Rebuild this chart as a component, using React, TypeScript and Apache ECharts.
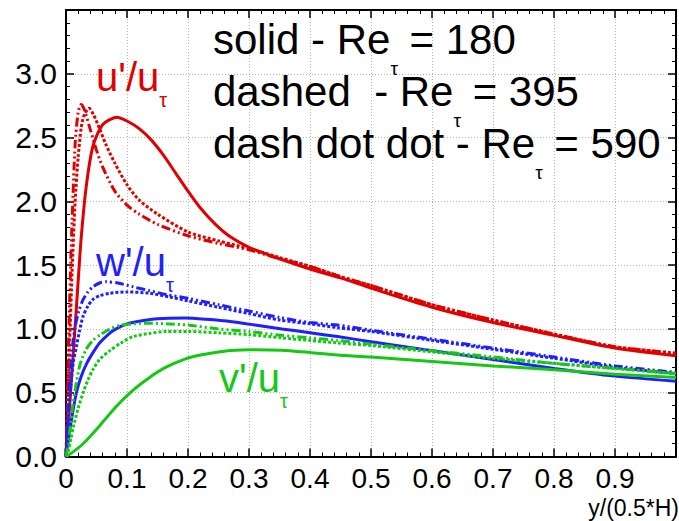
import React, { useEffect, useRef } from "react";
import * as echarts from "echarts";

// x tick labels (0 .. 0.9), y tick labels (0.0 .. 3.0)
const xTickLabels = ["0", "0.1", "0.2", "0.3", "0.4", "0.5", "0.6", "0.7", "0.8", "0.9"];
const yTickLabels = ["0.0", "0.5", "1.0", "1.5", "2.0", "2.5", "3.0"];

// u'/u_tau
const u180X = [0, 0.005, 0.01, 0.015, 0.02, 0.025, 0.033, 0.044, 0.06, 0.083, 0.1, 0.12, 0.14, 0.16, 0.18, 0.2, 0.22, 0.245, 0.27, 0.3, 0.35, 0.4, 0.45, 0.5, 0.6, 0.7, 0.8, 0.9, 1.0];
const u180Y = [0, 0.33, 0.68, 1.02, 1.38, 1.72, 2.11, 2.43, 2.6, 2.66, 2.63, 2.57, 2.48, 2.36, 2.22, 2.08, 1.95, 1.82, 1.72, 1.64, 1.55, 1.47, 1.4, 1.32, 1.17, 1.05, 0.95, 0.85, 0.79];
const u395X = [0, 0.003, 0.006, 0.01, 0.015, 0.02, 0.025, 0.03, 0.038, 0.045, 0.055, 0.065, 0.08, 0.1, 0.12, 0.15, 0.2, 0.25, 0.3, 0.35, 0.4, 0.45, 0.5, 0.6, 0.7, 0.8, 0.9, 1.0];
const u395Y = [0, 0.45, 0.9, 1.45, 2.0, 2.35, 2.58, 2.68, 2.73, 2.68, 2.57, 2.45, 2.3, 2.13, 2.01, 1.9, 1.76, 1.69, 1.63, 1.56, 1.49, 1.41, 1.34, 1.19, 1.07, 0.96, 0.86, 0.81];
const u590X = [0, 0.002, 0.004, 0.007, 0.01, 0.015, 0.02, 0.025, 0.03, 0.04, 0.05, 0.06, 0.08, 0.1, 0.12, 0.15, 0.2, 0.25, 0.3, 0.35, 0.4, 0.45, 0.5, 0.6, 0.7, 0.8, 0.9, 1.0];
const u590Y = [0, 0.42, 0.85, 1.4, 1.85, 2.45, 2.7, 2.76, 2.72, 2.56, 2.4, 2.27, 2.08, 1.97, 1.9, 1.82, 1.73, 1.67, 1.62, 1.55, 1.49, 1.41, 1.34, 1.19, 1.07, 0.96, 0.86, 0.81];

// w'/u_tau
const w180X = [0, 0.005, 0.009, 0.017, 0.025, 0.034, 0.045, 0.055, 0.07, 0.082, 0.1, 0.12, 0.15, 0.196, 0.23, 0.272, 0.31, 0.354, 0.4, 0.445, 0.5, 0.6, 0.7, 0.8, 0.9, 1.0];
const w180Y = [0, 0.17, 0.29, 0.5, 0.63, 0.73, 0.82, 0.89, 0.96, 1.0, 1.04, 1.06, 1.08, 1.085, 1.075, 1.056, 1.03, 1.0, 0.97, 0.94, 0.9, 0.83, 0.76, 0.69, 0.63, 0.59];
const w395X = [0, 0.004, 0.008, 0.012, 0.017, 0.022, 0.028, 0.036, 0.044, 0.055, 0.072, 0.099, 0.137, 0.17, 0.2, 0.25, 0.3, 0.35, 0.4, 0.445, 0.5, 0.6, 0.7, 0.8, 0.9, 1.0];
const w395Y = [0, 0.3, 0.56, 0.74, 0.86, 0.98, 1.1, 1.18, 1.23, 1.26, 1.28, 1.29, 1.28, 1.25, 1.22, 1.17, 1.12, 1.07, 1.04, 1.01, 0.98, 0.91, 0.84, 0.77, 0.7, 0.65];
const w590X = [0, 0.003, 0.007, 0.011, 0.015, 0.021, 0.028, 0.036, 0.044, 0.055, 0.066, 0.085, 0.11, 0.137, 0.164, 0.2, 0.25, 0.3, 0.35, 0.4, 0.445, 0.5, 0.6, 0.7, 0.8, 0.9, 1.0];
const w590Y = [0, 0.35, 0.65, 0.88, 1.02, 1.14, 1.23, 1.29, 1.33, 1.36, 1.37, 1.36, 1.33, 1.3, 1.27, 1.24, 1.19, 1.14, 1.09, 1.05, 1.03, 0.99, 0.92, 0.85, 0.78, 0.71, 0.66];

// v'/u_tau
const v180X = [0, 0.01, 0.028, 0.055, 0.082, 0.11, 0.137, 0.164, 0.196, 0.22, 0.245, 0.27, 0.3, 0.353, 0.4, 0.445, 0.5, 0.6, 0.7, 0.8, 0.9, 1.0];
const v180Y = [0, 0.03, 0.1, 0.24, 0.39, 0.52, 0.62, 0.7, 0.765, 0.795, 0.815, 0.83, 0.837, 0.833, 0.815, 0.795, 0.78, 0.745, 0.71, 0.68, 0.645, 0.62];
const v395X = [0, 0.004, 0.008, 0.012, 0.02, 0.028, 0.036, 0.044, 0.055, 0.072, 0.09, 0.11, 0.137, 0.164, 0.2, 0.25, 0.3, 0.353, 0.4, 0.445, 0.5, 0.6, 0.7, 0.8, 0.9, 1.0];
const v395Y = [0, 0.05, 0.14, 0.23, 0.38, 0.5, 0.6, 0.68, 0.76, 0.83, 0.89, 0.94, 0.965, 0.98, 0.98, 0.97, 0.955, 0.93, 0.91, 0.89, 0.87, 0.82, 0.77, 0.73, 0.69, 0.65];
const v590X = [0, 0.004, 0.008, 0.012, 0.017, 0.023, 0.033, 0.044, 0.058, 0.072, 0.09, 0.11, 0.137, 0.164, 0.2, 0.25, 0.3, 0.353, 0.4, 0.445, 0.5, 0.6, 0.7, 0.8, 0.9, 1.0];
const v590Y = [0, 0.1, 0.28, 0.43, 0.58, 0.72, 0.84, 0.91, 0.96, 1.0, 1.03, 1.04, 1.045, 1.04, 1.03, 1.0, 0.98, 0.95, 0.93, 0.91, 0.88, 0.83, 0.78, 0.73, 0.69, 0.65];

// legend lines (Re_tau values)
const legendLines = [
  { style: "solid", gap: " ", re: "180" },
  { style: "dashed", gap: "  ", re: "395" },
  { style: "dash dot dot", gap: " ", re: "590" },
];

const RED = "#e00000";
const BLUE = "#1f1fff";
const GREEN = "#16c816";
const FONT = "'Liberation Sans', Arial, sans-serif";

const SOLID: any = "solid";
const DASHED: any = [3, 2];
const DASHDOTDOT: any = [9, 3, 2, 3, 2, 3];

const zip = (xs: number[], ys: number[]) => xs.map((x, i) => [x, ys[i]]);

const curves = [
  { name: "u' Re180", x: u180X, y: u180Y, color: RED, dash: SOLID },
  { name: "u' Re395", x: u395X, y: u395Y, color: RED, dash: DASHED },
  { name: "u' Re590", x: u590X, y: u590Y, color: RED, dash: DASHDOTDOT },
  { name: "w' Re180", x: w180X, y: w180Y, color: BLUE, dash: SOLID },
  { name: "w' Re395", x: w395X, y: w395Y, color: BLUE, dash: DASHED },
  { name: "w' Re590", x: w590X, y: w590Y, color: BLUE, dash: DASHDOTDOT },
  { name: "v' Re180", x: v180X, y: v180Y, color: GREEN, dash: SOLID },
  { name: "v' Re395", x: v395X, y: v395Y, color: GREEN, dash: DASHED },
  { name: "v' Re590", x: v590X, y: v590Y, color: GREEN, dash: DASHDOTDOT },
];

function richLabel(left: number, top: number, text: string, color: string, size: number, lineH: number, subSize: number, subLH: number, pad: number) {
  return {
    type: "text",
    left,
    top,
    z: 100,
    style: {
      text,
      fill: color,
      fontFamily: FONT,
      verticalAlign: "top",
      rich: {
        m: { fontSize: size, lineHeight: lineH, fontFamily: FONT, fill: color, verticalAlign: "top" },
        t: { fontSize: subSize, lineHeight: subLH, fontFamily: FONT, fill: color, verticalAlign: "top", padding: [pad, 0, 0, 0] },
      },
    },
  };
}

export default function App() {
  const ref = useRef<HTMLDivElement>(null);
  useEffect(() => {
    if (!ref.current) return;
    const chart = echarts.init(ref.current, undefined, { renderer: "svg" });
    const axisCommon = {
      type: "value",
      axisLine: { show: true, onZero: false, lineStyle: { color: "#000", width: 2 } },
      axisTick: { show: true, inside: true, length: 8, lineStyle: { color: "#000", width: 1.5 } },
      minorTick: { show: true, splitNumber: 5, length: 4, lineStyle: { color: "#000", width: 1 } },
    };
    const legendText = legendLines
      .map((l) => `{m|${l.style}${l.gap}- Re}{t|τ}{m| = ${l.re}}`)
      .join("\n");
    chart.setOption({
      animation: false,
      backgroundColor: "#fff",
      grid: { left: 66, top: 10, width: 615, height: 446.5, containLabel: false },
      xAxis: [
        {
          ...axisCommon,
          min: 0,
          max: 1,
          interval: 0.1,
          position: "bottom",
          axisLabel: {
            fontSize: 28,
            fontFamily: FONT,
            color: "#000",
            margin: 8,
            formatter: (v: number) => xTickLabels[Math.round(v * 10)] ?? "",
          },
          splitLine: { show: true, lineStyle: { color: "#b4b4b4", type: [1, 2], width: 1 } },
        },
        {
          ...axisCommon,
          min: 0,
          max: 1,
          interval: 0.1,
          position: "top",
          axisLabel: { show: false },
          splitLine: { show: false },
        },
      ],
      yAxis: [
        {
          ...axisCommon,
          min: 0,
          max: 3.5,
          interval: 0.5,
          position: "left",
          axisLabel: {
            fontSize: 30,
            fontFamily: FONT,
            color: "#000",
            margin: 9,
            formatter: (v: number) => yTickLabels[Math.round(v * 2)] ?? "",
          },
          splitLine: { show: true, lineStyle: { color: "#b4b4b4", type: [1, 2], width: 1 } },
        },
        {
          ...axisCommon,
          min: 0,
          max: 3.5,
          interval: 0.5,
          position: "right",
          axisLabel: { show: false },
          splitLine: { show: false },
        },
      ],
      series: curves.map((c) => ({
        name: c.name,
        type: "line",
        xAxisIndex: 0,
        yAxisIndex: 0,
        data: zip(c.x, c.y),
        showSymbol: false,
        symbol: "none",
        smooth: 0.25,
        clip: true,
        lineStyle: { color: c.color, width: 3, type: c.dash },
      })),
      graphic: [
        richLabel(213, 18, legendText, "#000", 42, 52, 19, 10, 41),
        richLabel(96, 57, "{m|u'/u}{t|τ}", RED, 40, 40, 20, 12, 33),
        richLabel(96, 242, "{m|w'/u}{t|τ}", BLUE, 40, 40, 20, 12, 33),
        richLabel(219, 358, "{m|v'/u}{t|τ}", GREEN, 40, 40, 20, 12, 33),
        {
          type: "text",
          right: 0,
          top: 496,
          z: 100,
          style: { text: "y/(0.5*H)", fontSize: 23, lineHeight: 23, fontFamily: FONT, fill: "#000" },
        },
      ],
    });
    return () => chart.dispose();
  }, []);
  return <div ref={ref} style={{ position: "absolute", left: 0, top: 0, width: 679, height: 521 }} />;
}
